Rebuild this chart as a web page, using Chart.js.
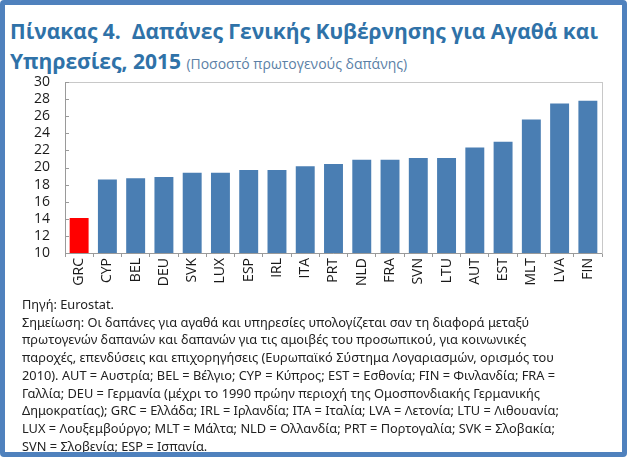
<!DOCTYPE html>
<html>
<head>
<meta charset="utf-8">
<script src="https://cdn.jsdelivr.net/npm/chart.js@4.4.0/dist/chart.umd.min.js"></script>
<style>
  html, body { margin: 0; padding: 0; background: #ffffff; }
  #frame {
    position: absolute; left: 0; top: 0; width: 627px; height: 457px;
    box-sizing: border-box; border: 5px solid #4f81bd; border-radius: 4px;
    background: #ffffff; overflow: hidden;
  }
  #title {
    position: absolute; left: 5px; top: 11px; width: 615px;
    font-family: "Open Sans", sans-serif; font-weight: bold; font-size: 21px;
    line-height: 30px; color: #2f72a8; white-space: nowrap;
  }
  #title .sub { font-weight: normal; font-size: 14px; color: #5b7fa6; }
  #chartBox { position: absolute; left: 7px; top: 61px; width: 600px; height: 230px; }
  #notes {
    position: absolute; left: 17px; top: 291px; width: 600px;
    font-family: "Noto Sans", sans-serif; font-size: 12.8px; line-height: 17.7px;
    color: #222222; white-space: nowrap;
  }
</style>
</head>
<body>
<div id="frame">
  <div id="title">Πίνακας 4.&nbsp; Δαπάνες Γενικής Κυβέρνησης για Αγαθά και<br>Υπηρεσίες, 2015 <span class="sub">(Ποσοστό πρωτογενούς δαπάνης)</span></div>
  <div id="chartBox"><canvas id="barChart"></canvas></div>
  <div id="notes">
    Πηγή: Eurostat.<br>
    Σημείωση: Οι δαπάνες για αγαθά και υπηρεσίες υπολογίζεται σαν τη διαφορά μεταξύ<br>
    πρωτογενών δαπανών και δαπανών για τις αμοιβές του προσωπικού, για κοινωνικές<br>
    παροχές, επενδύσεις και επιχορηγήσεις (Ευρωπαϊκό Σύστημα Λογαριασμών, ορισμός του<br>
    2010). AUT = Αυστρία; BEL = Βέλγιο; CYP = Κύπρος; EST = Εσθονία; FIN = Φινλανδία; FRA =<br>
    Γαλλία; DEU = Γερμανία (μέχρι το 1990 πρώην περιοχή της Ομοσπονδιακής Γερμανικής<br>
    Δημοκρατίας); GRC = Ελλάδα; IRL = Ιρλανδία; ITA = Ιταλία; LVA = Λετονία; LTU = Λιθουανία;<br>
    LUX = Λουξεμβούργο; MLT = Μάλτα; NLD = Ολλανδία; PRT = Πορτογαλία; SVK = Σλοβακία;<br>
    SVN = Σλοβενία; ESP = Ισπανία.
  </div>
</div>
<script>
  // data
  const countries = ['GRC', 'CYP', 'BEL', 'DEU', 'SVK', 'LUX', 'ESP', 'IRL', 'ITA', 'PRT',
                     'NLD', 'FRA', 'SVN', 'LTU', 'AUT', 'EST', 'MLT', 'LVA', 'FIN'];
  const values = [14.1, 18.6, 18.75, 18.9, 19.4, 19.4, 19.7, 19.7, 20.15, 20.4,
                  20.9, 20.9, 21.1, 21.1, 22.35, 23.0, 25.6, 27.5, 27.8];
  const yMin = 10;
  const yMax = 30;
  const yStep = 2;

  const barColors = countries.map(c => c === 'GRC' ? '#ff0000' : '#4a7eb3');

  // plot frame + inward tick marks on the value axis
  const framePlugin = {
    id: 'frame',
    afterDraw(chart) {
      const ctx = chart.ctx;
      const a = chart.chartArea;
      const y = chart.scales.y;
      ctx.save();
      ctx.strokeStyle = '#c8c8c8';
      ctx.lineWidth = 1;
      ctx.strokeRect(Math.round(a.left) + 0.5, Math.round(a.top) + 0.5,
                     Math.round(a.right - a.left), Math.round(a.bottom - a.top));
      ctx.strokeStyle = '#9a9a9a';
      ctx.beginPath();
      ctx.moveTo(Math.round(a.left) + 0.5, a.top);
      ctx.lineTo(Math.round(a.left) + 0.5, a.bottom);
      ctx.moveTo(a.left, Math.round(a.bottom) + 0.5);
      ctx.lineTo(a.right, Math.round(a.bottom) + 0.5);
      y.ticks.forEach(t => {
        const py = Math.round(y.getPixelForValue(t.value)) + 0.5;
        ctx.moveTo(a.left, py);
        ctx.lineTo(a.left + 4, py);
      });
      ctx.stroke();
      ctx.restore();
    }
  };

  const ctx = document.getElementById('barChart').getContext('2d');
  const barChart = new Chart(ctx, {
    type: 'bar',
    data: {
      labels: countries,
      datasets: [{
        data: values,
        backgroundColor: barColors,
        barPercentage: 0.67,
        categoryPercentage: 1.0
      }]
    },
    options: {
      responsive: true,
      maintainAspectRatio: false,
      animation: false,
      layout: { padding: { top: 16, right: 10, left: 0, bottom: 0 } },
      plugins: { legend: { display: false }, tooltip: { enabled: false } },
      scales: {
        x: {
          grid: { display: true, drawOnChartArea: false, drawTicks: true, tickLength: 4, color: '#9a9a9a' },
          border: { display: false },
          ticks: {
            color: '#1a1a1a', font: { family: 'Open Sans', size: 14 },
            minRotation: 90, maxRotation: 90, padding: 1, autoSkip: false
          },
          afterFit(scale) { scale.height = 43; }
        },
        y: {
          min: yMin, max: yMax,
          grid: { display: false },
          border: { display: false },
          ticks: {
            stepSize: yStep, color: '#1a1a1a', autoSkip: false,
            font: { family: 'Open Sans', size: 14 }, padding: 7
          },
          afterFit(scale) { scale.width = 53; }
        }
      }
    },
    plugins: [framePlugin]
  });
</script>
</body>
</html>
